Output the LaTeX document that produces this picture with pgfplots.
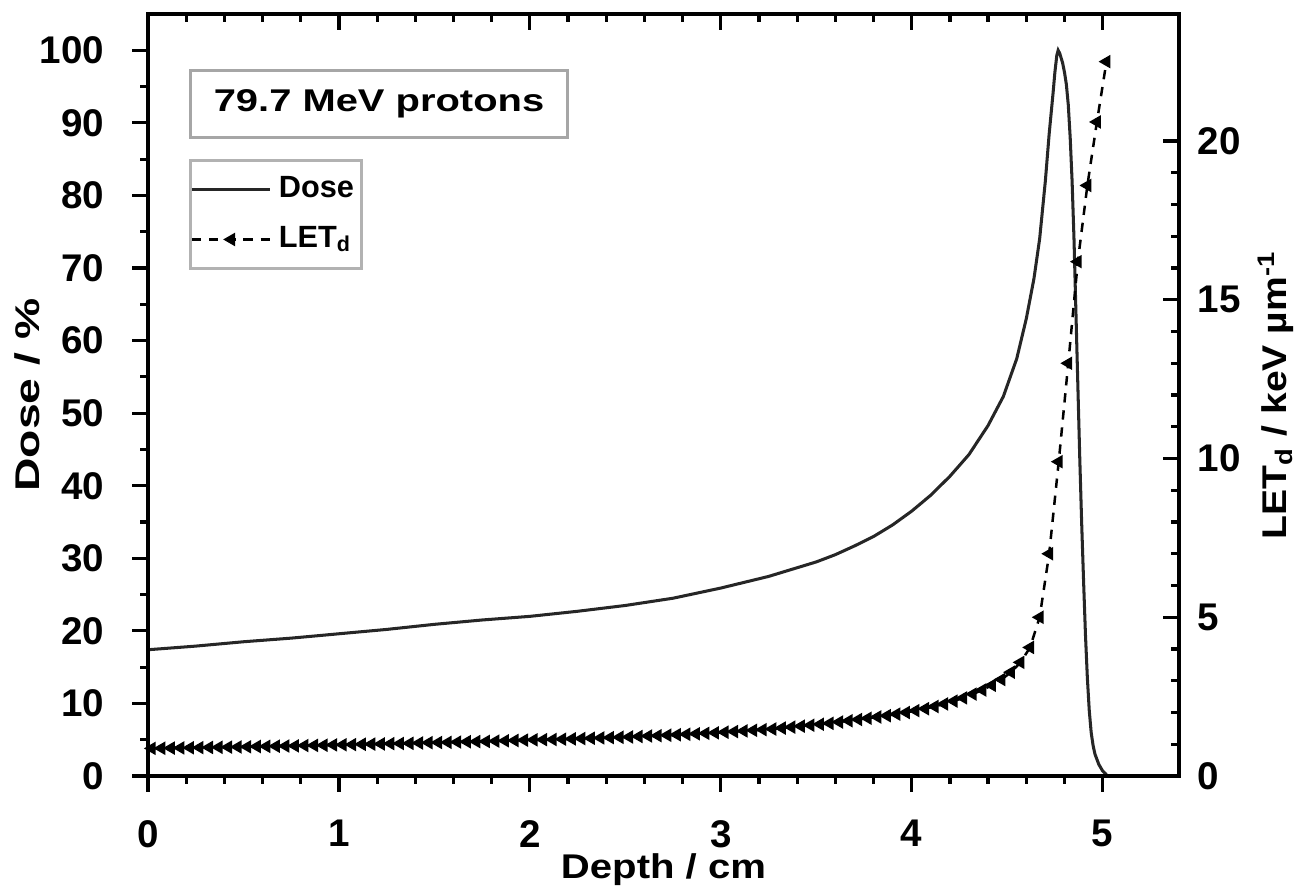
\documentclass[border=0pt]{standalone}
\usepackage{fontspec}
\setmainfont{Liberation Sans}
\usepackage{graphicx}
\usepackage{pgfplots}
\pgfplotsset{compat=1.18}
\usepackage{pgfplotstable}

\pgfplotstableread{
x y
0.00 17.4
0.25 17.9
0.50 18.5
0.75 19.0
1.00 19.6
1.25 20.2
1.50 20.9
1.75 21.5
2.00 22.0
2.25 22.7
2.50 23.5
2.75 24.5
3.00 25.9
3.25 27.5
3.50 29.5
3.60 30.5
3.70 31.7
3.80 33.0
3.90 34.6
4.00 36.5
4.10 38.7
4.20 41.3
4.30 44.3
4.40 48.3
4.48 52.3
4.55 57.5
4.60 63.0
4.64 68.5
4.67 74.0
4.70 82.0
4.72 88.5
4.74 94.0
4.75 97.0
4.76 99.3
4.767 100.0
4.775 99.6
4.79 98.3
4.80 97.0
4.81 95.3
4.82 92.5
4.83 88.0
4.84 82.0
4.85 74.0
4.86 64.0
4.87 54.0
4.88 44.0
4.89 35.0
4.90 27.0
4.91 19.5
4.92 13.5
4.93 9.0
4.94 6.0
4.95 4.2
4.96 3.0
4.98 1.6
5.00 0.7
5.02 0.2
}\dosedata

\pgfplotstableread{
x y
0.02 0.87
0.07 0.875
0.12 0.88
0.17 0.885
0.22 0.89
0.27 0.895
0.32 0.90
0.37 0.905
0.42 0.91
0.47 0.915
0.52 0.92
0.57 0.93
0.62 0.935
0.67 0.94
0.72 0.945
0.77 0.95
0.82 0.96
0.87 0.965
0.92 0.97
0.97 0.98
1.02 0.985
1.07 0.99
1.12 1.00
1.17 1.005
1.22 1.01
1.27 1.02
1.32 1.025
1.37 1.03
1.42 1.04
1.47 1.05
1.52 1.055
1.57 1.06
1.62 1.07
1.67 1.08
1.72 1.085
1.77 1.09
1.82 1.10
1.87 1.11
1.92 1.12
1.97 1.13
2.02 1.14
2.07 1.145
2.12 1.15
2.17 1.16
2.22 1.17
2.27 1.18
2.32 1.19
2.37 1.20
2.42 1.21
2.47 1.22
2.52 1.23
2.57 1.245
2.62 1.26
2.67 1.27
2.72 1.285
2.77 1.30
2.82 1.315
2.87 1.33
2.92 1.345
2.97 1.36
3.02 1.38
3.07 1.40
3.12 1.42
3.17 1.44
3.22 1.46
3.27 1.48
3.32 1.51
3.37 1.54
3.42 1.57
3.47 1.60
3.52 1.63
3.57 1.66
3.62 1.70
3.67 1.74
3.72 1.78
3.77 1.82
3.82 1.86
3.87 1.90
3.92 1.95
3.97 2.00
4.02 2.06
4.07 2.12
4.12 2.19
4.17 2.27
4.22 2.36
4.27 2.46
4.32 2.58
4.37 2.71
4.42 2.86
4.47 3.04
4.52 3.27
4.57 3.58
4.62 4.05
4.67 5.00
4.72 7.00
4.77 9.90
4.82 13.0
4.87 16.2
4.92 18.6
4.97 20.6
5.02 22.5
}\letdata

\begin{document}
\begin{tikzpicture}
\useasboundingbox (-41.44pt,-32.76pt) rectangle (325.08pt,217.28pt);
\pgfplotsset{
  common/.style={
    scale only axis, width=288.68pt, height=213.36pt,
    at={(0pt,0pt)}, anchor=south west,
    xmin=0, xmax=5.4,
    xtick={0,1,2,3,4,5}, minor x tick num=4,
    major tick length=4.4pt, minor tick length=2.2pt,
    every tick/.append style={line width=0.9pt, black},
    axis line style={line width=1.1pt, black},
    tick label style={font=\fontsize{10.8}{12}\selectfont\bfseries},
    label style={font=\fontsize{9.6}{11}\selectfont\bfseries},
    /pgf/number format/assume math mode=true,
  }
}
\begin{axis}[common,
  ymin=0, ymax=105, ytick={0,10,...,100}, minor y tick num=1,
  xtick pos=bottom, ytick pos=left, tick align=outside,
  yticklabel style={xshift=-4.4pt},
  xticklabel style={yshift=-4.4pt},
  xlabel={\scalebox{1.17}[1]{Depth / cm}},
  ylabel={\scalebox{1.35}[1]{Dose / \%}},
  xlabel style={at={(axis description cs:0.5,-0.1345)}, anchor=base},
  ylabel style={at={(axis description cs:-0.1048,0.5)}, anchor=base},
]
\addplot[black!85, line width=0.85pt] table[x=x,y=y] {\dosedata};
\end{axis}
\begin{axis}[common,
  ymin=0, ymax=24, ytick={0,5,...,20}, minor y tick num=4,
  xtick pos=top, xticklabels={}, ytick pos=right, tick align=inside,
  yticklabel style={xshift=1.7pt},
  ylabel={\scalebox{1.14}[1]{LET\textsubscript{d} / keV µm\textsuperscript{-1}}},
  ylabel style={at={(axis description cs:1.1047,0.5)}, anchor=base},
  legend style={at={(axis description cs:0.0398,0.8097)}, anchor=north west,
    draw=gray!60, line width=0.8pt,
    font=\fontsize{8.6}{10}\selectfont\bfseries,
    inner xsep=0pt, inner ysep=2.5pt, row sep=2.5pt,
    cells={anchor=west}},
  legend image code/.code={\draw[mark repeat=2,mark phase=2,#1] plot coordinates {(0cm,0cm) (0.385cm,0cm) (0.77cm,0cm)};},
]
\addlegendimage{black!85, line width=0.85pt}
\addlegendentry{Dose}
\addplot[black, line width=0.7pt, dash pattern=on 2.6pt off 2.2pt,
  mark=triangle*, mark size=1.5pt, mark options={solid, rotate=90}]
  table[x=x,y=y] {\letdata};
\addlegendentry{LET\textsubscript{d}}
\node[draw=gray!70, line width=0.8pt, anchor=north west,
  minimum width=105.6pt, minimum height=18.8pt, inner sep=0pt]
  at (axis description cs:0.0398,0.9278)
  {\scalebox{1.27}[1]{\fontsize{8.8}{10}\selectfont\bfseries 79.7 MeV protons}};
\end{axis}
\end{tikzpicture}
\end{document}
